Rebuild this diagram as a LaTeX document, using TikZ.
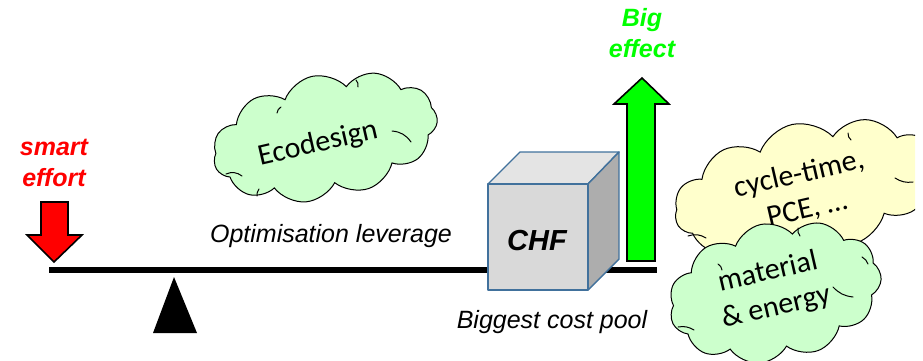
\documentclass[tikz,border=0pt]{standalone}
\usepackage{fontspec}
\setmainfont{Liberation Sans}
\newfontfamily\cloudfont{Carlito}
\usetikzlibrary{shapes.symbols}
\definecolor{cubeedge}{HTML}{41719C}
\definecolor{cubefront}{HTML}{D9D9D9}
\definecolor{cubetop}{HTML}{E4E4E4}
\definecolor{cubeside}{HTML}{ADADAD}
\definecolor{mint}{HTML}{CCFFCC}
\definecolor{cream}{HTML}{FFFFCC}
\definecolor{brightgreen}{HTML}{00FF00}
\tikzset{
  label/.style={font=\fontsize{25}{31}\selectfont\itshape, inner sep=0pt},
  boldlabel/.style={label, font=\fontsize{25}{31}\selectfont\bfseries\itshape, align=center},
  thought/.style={cloud, draw=black, line width=1pt, cloud puffs=11, cloud puff arc=115,
    aspect=1.8, inner sep=0pt, rotate=12},
  thoughttext/.style={rotate=13, align=center, inner sep=0pt,
    font=\cloudfont\fontsize{30}{36}\selectfont},
  puffline/.style={line width=1pt, line cap=round},
  blockarrow/.style={draw=black, line width=1.6pt, line join=miter},
  cubeface/.style={draw=cubeedge, line width=1.4pt, line join=round},
}
\begin{document}
\begin{tikzpicture}[x=1pt, y=-1pt]
\useasboundingbox (0,0) rectangle (923,361);

% lever beam and fulcrum
\coordinate (beamL) at (49,270);
\coordinate (beamR) at (657,270);
\draw[line width=6.5pt] (beamL) -- (beamR);
\fill (153,333) -- (174,277) -- (197,333) -- cycle;

% cube on the right end of the beam
\draw[cubeface, fill=cubetop] (488,184) -- (520,152) -- (619,152) -- (588,184) -- cycle;
\draw[cubeface, fill=cubeside] (588,184) -- (619,152) -- (619,259) -- (588,290) -- cycle;
\draw[cubeface, fill=cubefront] (488,184) rectangle (588,290);
\node[font=\fontsize{29}{34}\selectfont\bfseries\itshape, inner sep=0pt, anchor=base] (chf) at (537,250) {CHF};

% red effort arrow pointing down
\draw[blockarrow, fill=red] (41,202) -- (68,202) -- (68,235) -- (82,235) -- (54,262)
  -- (27,235) -- (41,235) -- cycle;
\node[boldlabel, text=red] (effort) at (54,163) {smart\\effort};

% green effect arrow pointing up
\draw[blockarrow, fill=brightgreen] (627,261) -- (655,261) -- (655,104) -- (669,104) -- (642,78)
  -- (614,104) -- (627,104) -- cycle;
\node[boldlabel, text=brightgreen] (effect) at (642,33) {Big\\effect};

% captions
\node[label, anchor=base] (leverage) at (331,242) {Optimisation leverage};
\node[label, anchor=base] (pool) at (552,328) {Biggest cost pool};

% Ecodesign cloud
\node[thought, fill=mint, minimum width=228pt, minimum height=124pt] (eco) at (325,137) {};
\draw[puffline] (226,174) to[bend left=30] (242,176);
\draw[puffline] (257,196) to[bend left=20] (259,189);
\draw[puffline] (392,131) to[bend left=25] (411,142);
\draw[puffline] (281,107) to[bend right=25] (277,113);
\draw[puffline] (356,80) to[bend left=25] (358,87);
\node[thoughttext] (ecotext) at (318,144) {Ecodesign};

% cycle-time cloud, running off the right edge
\begin{scope}
  \clip (600,100) rectangle (915,300);
  \node[thought, fill=cream, aspect=2, minimum width=268pt, minimum height=132pt] (cycle) at (806,189) {};
  \draw[puffline] (895,178) to[bend right=20] (913,182);
  \draw[puffline] (688,236) to[bend left=25] (706,238);
  \draw[puffline] (848,133) to[bend right=25] (851,140);
\end{scope}
\node[thoughttext] (cycletext) at (803,192) {cycle-time,\\PCE, \dots};

% material & energy cloud
\node[thought, fill=mint, minimum width=215pt, minimum height=138pt] (material) at (775,292) {};
\draw[puffline] (833,287) to[bend right=20] (853,297);
\draw[puffline] (862,257) to[bend left=20] (868,264);
\draw[puffline] (798,228) to[bend right=25] (800,236);
\draw[puffline] (718,264) to[bend left=25] (722,270);
\draw[puffline] (678,327) to[bend left=20] (694,330);
\node[thoughttext] (materialtext) at (772,290) {material\\\& energy};
\end{tikzpicture}
\end{document}
